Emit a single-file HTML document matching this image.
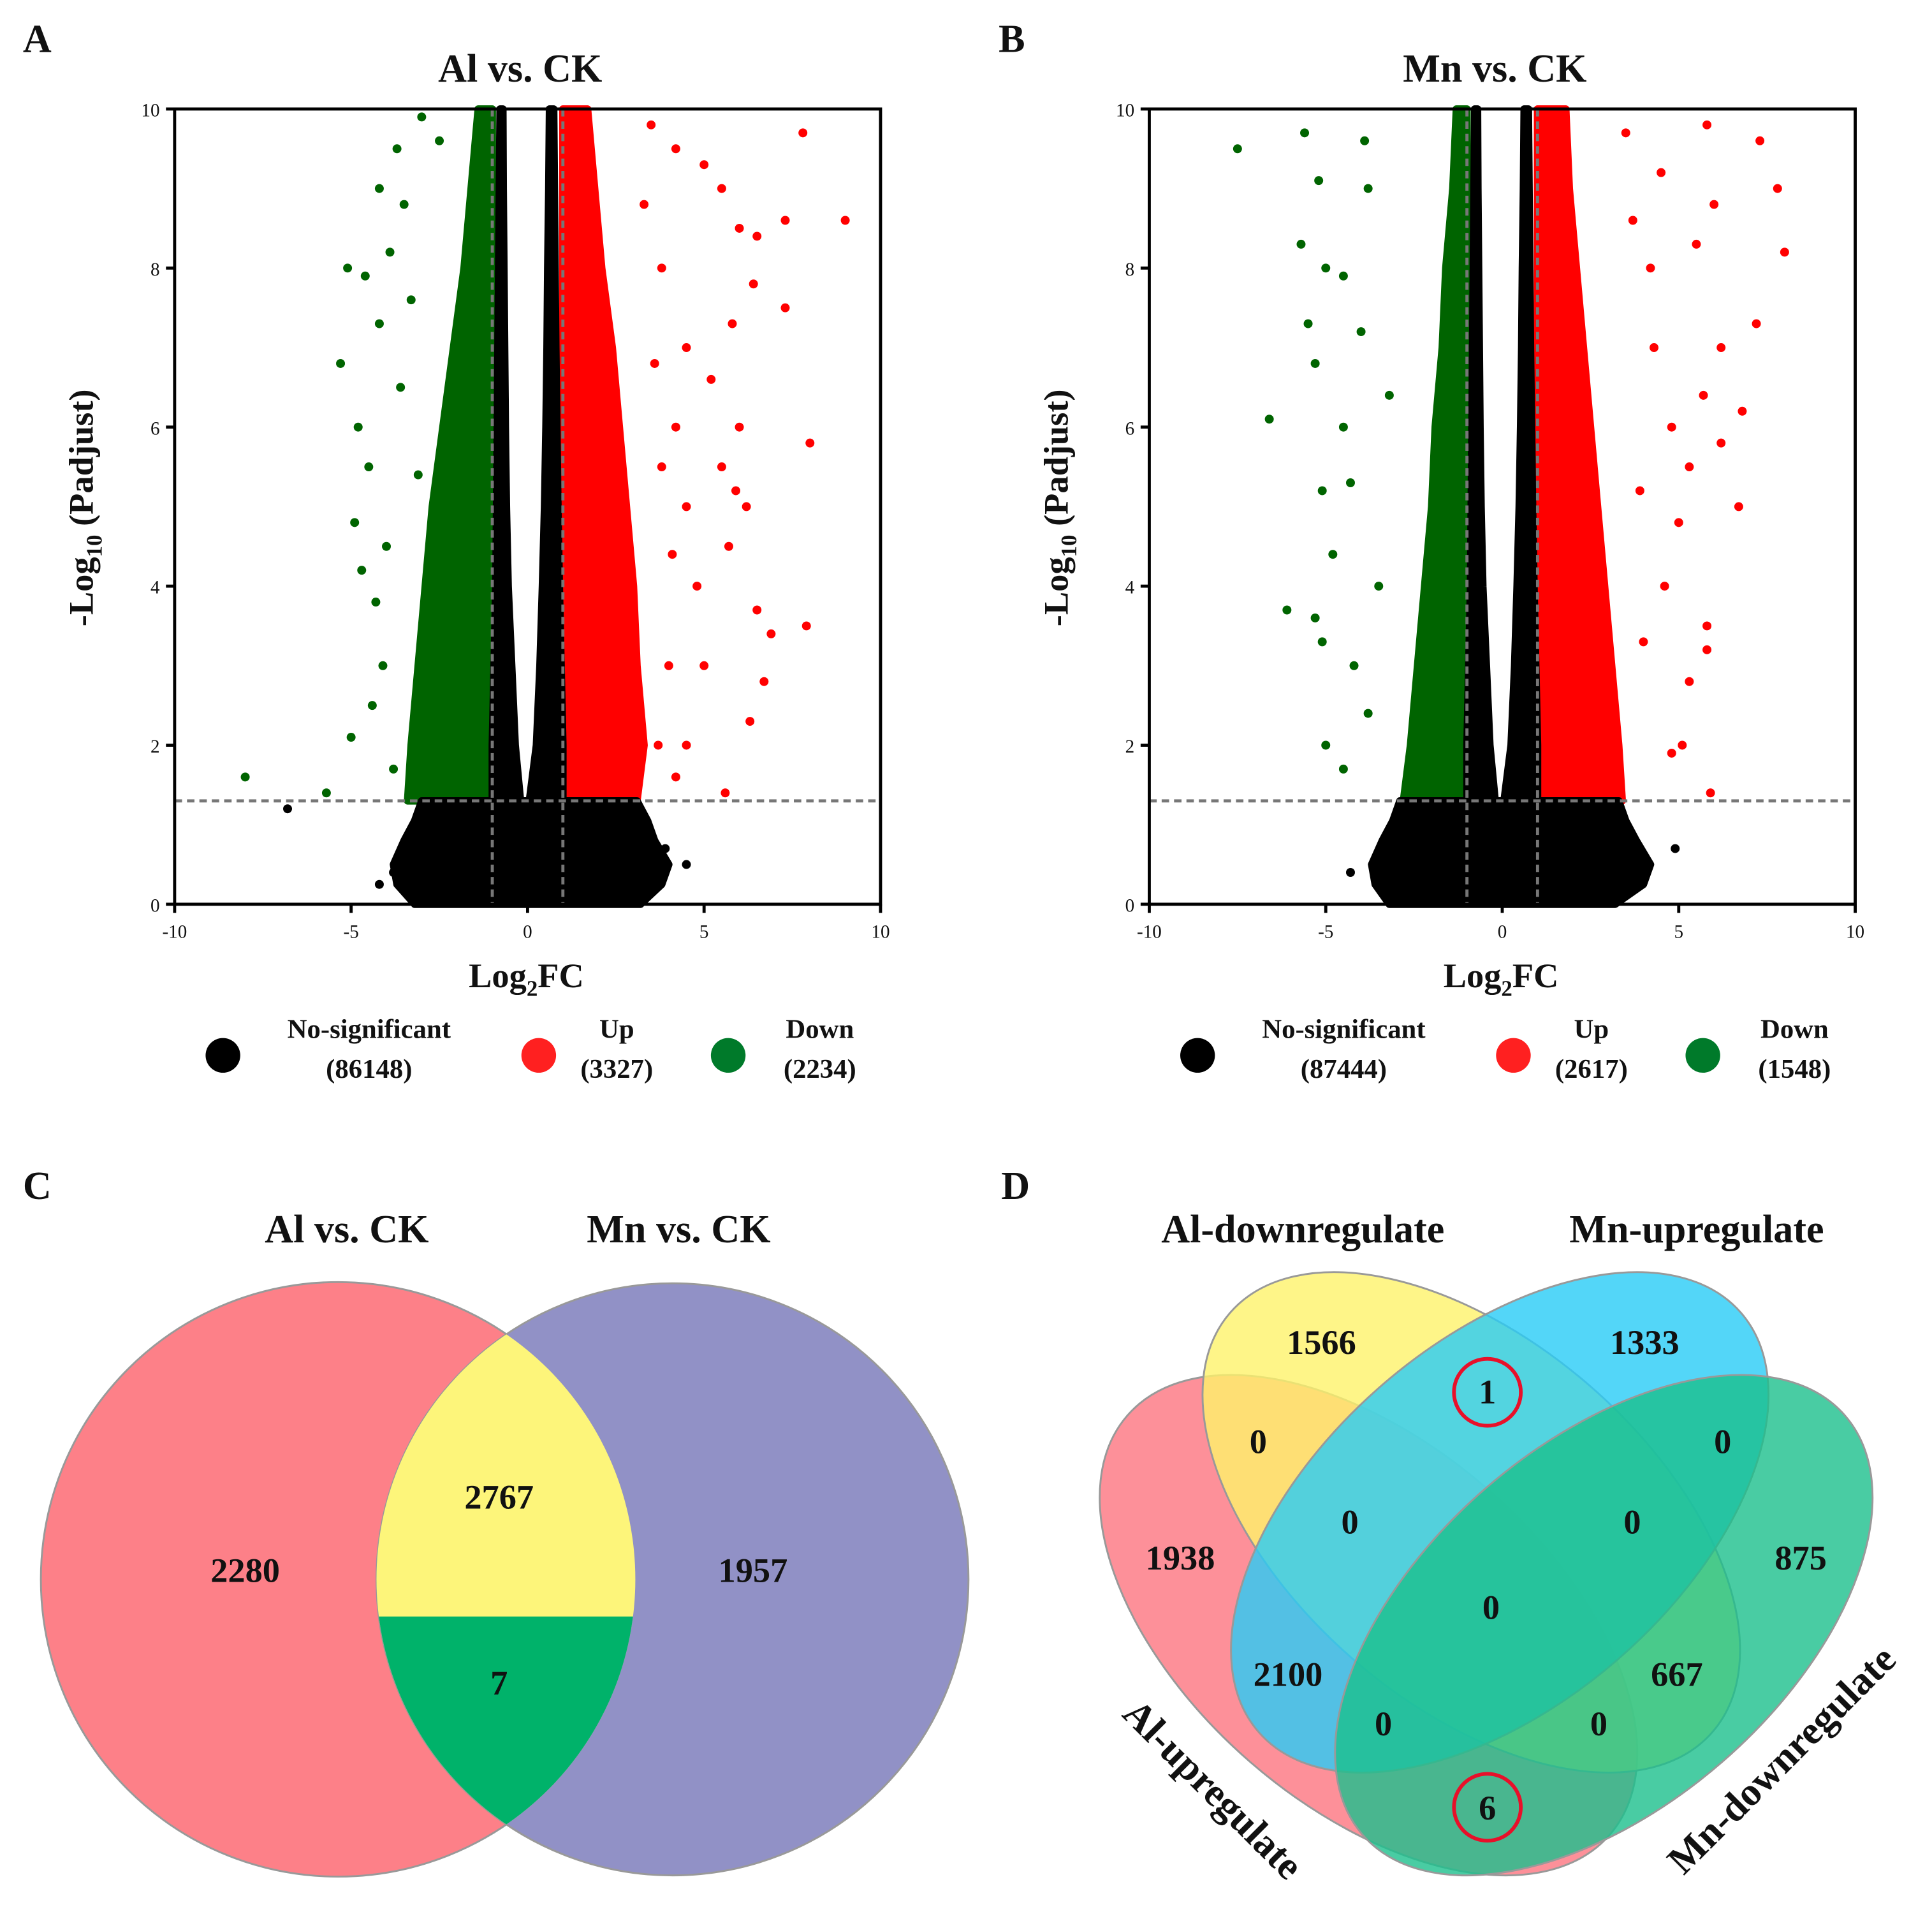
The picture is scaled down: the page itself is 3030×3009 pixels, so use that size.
<!DOCTYPE html>
<html><head><meta charset="utf-8"><style>
html,body{margin:0;padding:0;background:#fff;overflow:hidden}
svg{display:block}
text{font-family:"Liberation Serif",serif;font-weight:bold;fill:#111}
</style></head><body>
<svg id="fig" width="3030" height="3009" viewBox="0 0 1560 1549.2" xmlns="http://www.w3.org/2000/svg">
<g id="root"></g>
</svg>
<script>
// ---------- DATA ----------
const xTicks = [-10,-5,0,5,10];
const yTicks = [0,2,4,6,8,10];
const envY = [1.3,2,3,4,5,6,7,8,9,10];
const alGreenLeft = [-3.4,-3.3,-3.1,-2.9,-2.7,-2.4,-2.1,-1.8,-1.6,-1.4];
const alRedRight = [3.1,3.3,3.1,3.0,2.8,2.6,2.4,2.1,1.9,1.7];
const mnGreenLeft = [-2.8,-2.6,-2.4,-2.2,-2.0,-1.9,-1.7,-1.6,-1.4,-1.3];
const mnRedRight = [3.4,3.3,3.1,2.9,2.7,2.5,2.3,2.1,1.9,1.8];
const blobY = [0,0.25,0.5,0.8,1.05,1.3];
const alBlobL = [-3.2,-3.7,-3.8,-3.5,-3.2,-3.0];
const alBlobR = [3.2,3.8,4.0,3.6,3.4,3.1];
const mnBlobL = [-3.2,-3.6,-3.7,-3.4,-3.1,-2.9];
const mnBlobR = [3.2,4.0,4.2,3.8,3.5,3.3];
const alRedPts = [[4.2,9.5],[5,9.3],[5.5,9],[6,8.5],[6.5,8.4],[7.8,9.7],[9,8.6],[7.3,8.6],[7.3,7.5],[6.4,7.8],[5.8,7.3],[6,6],[8,5.8],[5.5,5.5],[6.2,5],[5.7,4.5],[6.5,3.7],[7.9,3.5],[6.9,3.4],[6.7,2.8],[6.3,2.3],[5.6,1.4],[4.5,2],[5,3],[4.8,4],[4.5,5],[4.2,6],[4.5,7],[3.8,8],[4,3],[3.7,2],[4.2,1.6],[3.5,9.8],[3.3,8.8],[3.8,5.5],[4.1,4.4],[3.6,6.8],[5.2,6.6],[5.9,5.2]];
const alGreenPts = [[-8,1.6],[-5.7,1.4],[-5,2.1],[-5.1,8],[-4.6,7.9],[-5.3,6.8],[-4.8,6],[-4.5,5.5],[-4.9,4.8],[-4.3,3.8],[-4.7,4.2],[-4.2,9],[-3.7,9.5],[-3,9.9],[-3.9,8.2],[-4.2,7.3],[-3.6,6.5],[-4.4,2.5],[-3.8,1.7],[-3.5,8.8],[-2.5,9.6],[-4,4.5],[-4.1,3],[-3.3,7.6],[-3.1,5.4]];
const alBlackPts = [[-6.8,1.2],[-3.8,0.4],[-4.2,0.25],[3.9,0.7],[4.5,0.5]];
const mnRedPts = [[8,8.2],[7.8,9],[7.3,9.6],[7.2,7.3],[5.8,9.8],[6,8.8],[5.5,8.3],[6.2,7],[6.8,6.2],[6.2,5.8],[6.7,5],[5.7,6.4],[5.3,5.5],[4.8,6],[5,4.8],[5.8,3.5],[5.8,3.2],[5.3,2.8],[5.1,2],[5.9,1.4],[4.6,4],[4.3,7],[4.2,8],[4.5,9.2],[3.5,9.7],[4,3.3],[4.8,1.9],[3.9,5.2],[3.7,8.6]];
const mnGreenPts = [[-7.5,9.5],[-6.6,6.1],[-6.1,3.7],[-5.6,9.7],[-5.7,8.3],[-5,8],[-5.5,7.3],[-5.3,6.8],[-5.1,5.2],[-5.1,3.3],[-5.3,3.6],[-4.5,1.7],[-5,2],[-4.8,4.4],[-4.5,6],[-4.5,7.9],[-5.2,9.1],[-3.9,9.6],[-4.3,5.3],[-4.2,3],[-3.8,2.4],[-3.8,9],[-4,7.2],[-3.5,4],[-3.2,6.4]];
const mnBlackPts = [[4.9,0.7],[4,0.6],[-4.3,0.4]];
const legendLabels = ["No-significant","Up","Down"];
const alCounts = ["86148","3327","2234"];
const mnCounts = ["87444","2617","1548"];
const vennC = ["2280","2767","7","1957"];

// ---------- HELPERS ----------
const NS="http://www.w3.org/2000/svg";
const root=document.getElementById('root');
function el(tag,attrs,parent){const e=document.createElementNS(NS,tag);for(const k in attrs)e.setAttribute(k,attrs[k]);(parent||root).appendChild(e);return e;}
function txt(x,y,s,size,parent,anchor){const t=el('text',{x:x,y:y,'font-size':size,'text-anchor':anchor||'middle'},parent);t.textContent=s;return t;}

function volcano(ox, title, greenLeft, redRight, blobL, blobR, redPts, greenPts, blackPts, counts, letter){
  const g=el('g',{});
  
  
  const X0=ox+141,X1=ox+711,Y0=730,Y1=88;
  const sx=v=>X0+(v+10)/20*(X1-X0);
  const sy=v=>Y0-v/10*(Y0-Y1);
  const lt=txt(ox+30,42,letter,32,g);
  
  
  const tt=txt(ox+420,66,title,32,g);
  
  
  function region(leftArr,rightArr,ys,color,name){
    let pts=[];
    for(let i=0;i<ys.length;i++)pts.push(sx(leftArr[i])+','+sy(ys[i]));
    for(let i=ys.length-1;i>=0;i--)pts.push(sx(rightArr[i])+','+sy(ys[i]));
    const p=el('polygon',{points:pts.join(' '),fill:color,stroke:color,'stroke-width':6,'stroke-linejoin':'round'},g);
    
    
  }
  region(greenLeft, envY.map(()=>-1), envY, '#006400', 'down-dense');
  region(envY.map(()=>1), redRight, envY, '#ff0000', 'up-dense');
  region(blobL, blobR, blobY, '#000', 'ns-dense');
  region([-1,-1,-0.95,-0.9,-0.88,-0.86,-0.84,-0.82,-0.8,-0.78], [-0.2,-0.35,-0.45,-0.55,-0.6,-0.63,-0.65,-0.67,-0.69,-0.7], envY, '#000', 'ns-left-arm');
  region([0.05,0.25,0.35,0.42,0.48,0.52,0.55,0.57,0.6,0.62], [1,1,0.95,0.9,0.86,0.83,0.8,0.78,0.76,0.74], envY, '#000', 'ns-right-arm');
  function dots(arr,color,name){arr.forEach(p=>{const c=el('circle',{cx:sx(p[0]),cy:sy(p[1]),r:3.6,fill:color},g);
    
    });}
  dots(redPts,'#ff0000','up-point');dots(greenPts,'#006400','down-point');dots(blackPts,'#000','ns-point');
  [sx(-1),sx(1)].forEach(x=>{const l=el('line',{x1:x,x2:x,y1:Y1,y2:Y0,stroke:'#777','stroke-width':2.5,'stroke-dasharray':'6,4'},g);
    
    });
  const h=el('line',{x1:X0,x2:X1,y1:sy(1.3),y2:sy(1.3),stroke:'#777','stroke-width':2.5,'stroke-dasharray':'6,4'},g);
  
  
  const fr=el('rect',{x:X0,y:Y1,width:X1-X0,height:Y0-Y1,fill:'none',stroke:'#000','stroke-width':2.5},g);
  
  
  xTicks.forEach(v=>{el('line',{x1:sx(v),x2:sx(v),y1:Y0,y2:Y0+7,stroke:'#000','stroke-width':2.5},g);
    const t=txt(sx(v),Y0+27,String(v),15,g);t.style.fontWeight='normal';
    
    });
  yTicks.forEach(v=>{el('line',{x1:X0-7,x2:X0,y1:sy(v),y2:sy(v),stroke:'#000','stroke-width':2.5},g);
    const t=txt(X0-12,sy(v)+6,String(v),15,g,'end');t.style.fontWeight='normal';
    
    });
  const xt=el('text',{x:ox+425,y:797,'font-size':28,'text-anchor':'middle'},g);
  xt.innerHTML='Log<tspan font-size="18" dy="7">2</tspan><tspan dy="-7">FC</tspan>';
  
  
  const yt=el('text',{x:0,y:0,'font-size':28,'text-anchor':'middle',transform:`translate(${ox+75},410) rotate(-90)`},g);
  yt.innerHTML='-Log<tspan font-size="18" dy="7">10</tspan><tspan dy="-7"> (Padjust)</tspan>';
  
  
  const lx=[180,435,588], colors=['#000','#ff2020','#007a2a'], tx=[298,498,662];
  for(let i=0;i<3;i++){
    const c=el('circle',{cx:ox+lx[i],cy:852,r:14,fill:colors[i]},g);
    
    
    const a=txt(ox+tx[i],838,legendLabels[i],22,g);
    
    
    const b=txt(ox+tx[i],870,'('+counts[i]+')',22,g);
    
    
  }
}
volcano(0,'Al vs. CK',alGreenLeft,alRedRight,alBlobL,alBlobR,alRedPts,alGreenPts,alBlackPts,alCounts,'A');
volcano(787,'Mn vs. CK',mnGreenLeft,mnRedRight,mnBlobL,mnBlobR,mnRedPts,mnGreenPts,mnBlackPts,mnCounts,'B');

// ---------- Venn C ----------
(function(){
  const g=el('g',{});
  
  
  const L=txt(30,968,'C',32,g);
  const t1=txt(280,1003,'Al vs. CK',32,g);
  const t2=txt(548,1003,'Mn vs. CK',32,g);
  const defs=el('defs',{},g);
  const cp=el('clipPath',{id:'clipL'},defs);el('circle',{cx:273,cy:1275,r:240},cp);
  const clipR=el('clipPath',{id:'clipR'},defs);el('circle',{cx:543,cy:1275,r:239},clipR);
  const c1=el('circle',{cx:273,cy:1275,r:240,fill:'#fd8088',stroke:'#999','stroke-width':1.5},g);
  
  const c2=el('circle',{cx:543,cy:1275,r:239,fill:'#9191c6',stroke:'#999','stroke-width':1.5},g);
  
  const ig=el('g',{'clip-path':'url(#clipL)'},g);
  const y=el('circle',{cx:543,cy:1275,r:239,fill:'#fdf57a'},ig);
  
  const gg=el('g',{'clip-path':'url(#clipR)'},ig);
  const gr=el('rect',{x:280,y:1305,width:260,height:260,fill:'#00b26a'},gg);
  
  const pos=[[198,1277],[403,1218],[403,1368],[608,1277]];
  vennC.forEach((v,i)=>{const t=txt(pos[i][0],pos[i][1],v,28,g);});
})();

// ---------- Venn D ----------
(function(){
  const g=el('g',{});
  
  
  const L=txt(820,968,'D',32,g);
  const a=txt(1052,1003,'Al-downregulate',32,g);
  const b=txt(1370,1003,'Mn-upregulate',32,g);
  const ells=[
    ['ellipse-al-up',1105,1312,258,146,41,'#fd7480'],
    ['ellipse-al-down',1188,1229,258,146,41,'#fef36a'],
    ['ellipse-mn-up',1211,1229,258,146,-41,'#28ccf6'],
    ['ellipse-mn-down',1295,1312,258,146,-41,'#1cbf8c']
  ];
  ells.forEach(e=>{const x=el('ellipse',{cx:0,cy:0,rx:e[3],ry:e[4],fill:e[6],'fill-opacity':0.8,stroke:'#999','stroke-width':1.5,transform:`translate(${e[1]},${e[2]}) rotate(${e[5]})`},g);
    });
  const c=el('text',{x:0,y:0,'font-size':32,'text-anchor':'middle',transform:'translate(972,1452) rotate(45)'},g);c.textContent='Al-upregulate';
  
  const d=el('text',{x:0,y:0,'font-size':32,'text-anchor':'middle',transform:'translate(1446,1428) rotate(-45)'},g);d.textContent='Mn-downregulate';
  
  const nums=[['1566',1067,1093],['1333',1328,1093],['1',1201,1133],['0',1016,1173],['0',1391,1173],['1938',953,1267],['0',1090,1238],['0',1318,1238],['875',1454,1267],['0',1204,1307],['2100',1040,1361],['667',1354,1361],['0',1117,1401],['0',1291,1401],['6',1201,1469]];
  nums.forEach(n=>{const t=txt(n[1],n[2],n[0],28,g);});
  [[1201,1124],[1201,1459]].forEach(p=>{const r=el('circle',{cx:p[0],cy:p[1],r:27,fill:'none',stroke:'#e8102a','stroke-width':3},g);
    });
})();
</script>
</body></html>
